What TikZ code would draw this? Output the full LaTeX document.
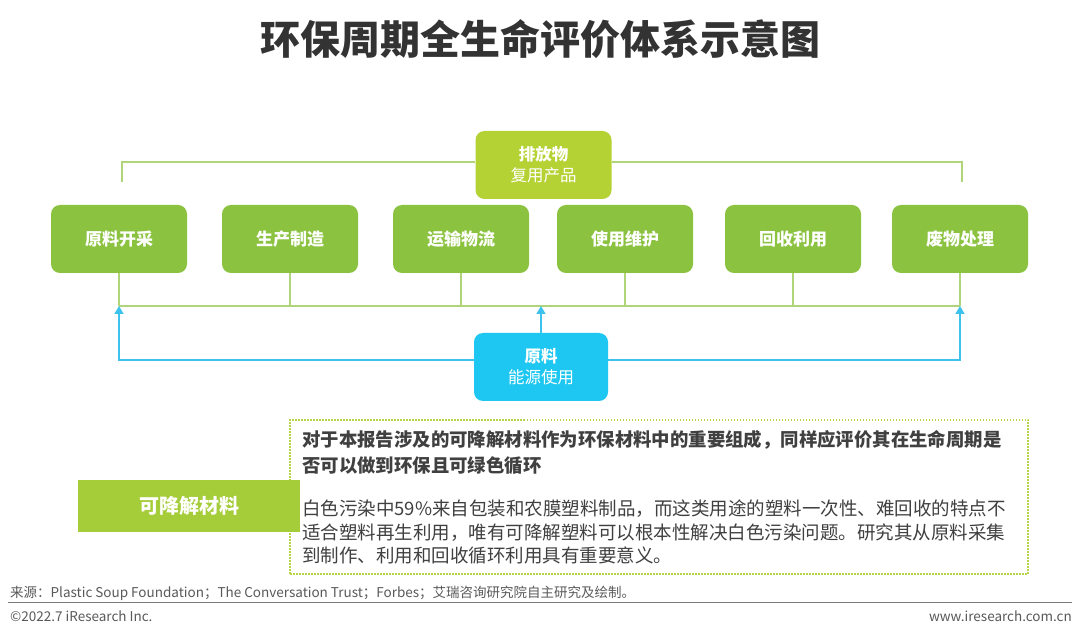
\documentclass[tikz,border=0pt]{standalone}
\usepackage{fontspec}
\setmainfont{Noto Sans CJK SC}
\usetikzlibrary{arrows.meta}
\definecolor{boxgreen}{HTML}{8BC340}
\definecolor{topgreen}{HTML}{B4D234}
\definecolor{rawblue}{HTML}{1EC7F1}
\definecolor{linegreen}{HTML}{AFD47A}
\definecolor{lineblue}{HTML}{3CC2EC}
\definecolor{sidegreen}{HTML}{A5CD39}
\definecolor{dotgreen}{HTML}{B8D44A}
\definecolor{titlegray}{HTML}{333333}
\definecolor{bodygray}{HTML}{404040}
\definecolor{footgray}{HTML}{595959}
\begin{document}
\begin{tikzpicture}[x=1pt,y=-1pt,
  stagebox/.style={fill=boxgreen, rounded corners=9pt, minimum width=136pt, minimum height=68pt, inner sep=0pt, text=white, font=\fontsize{17}{20}\selectfont\bfseries},
  twobox/.style={rounded corners=9pt, minimum width=136pt, minimum height=68pt, inner sep=0pt, text=white, align=center, font=\fontsize{16.5}{21}\selectfont},
  gline/.style={draw=linegreen, line width=1.5pt},
  barrow/.style={draw=lineblue, line width=1.5pt, -{Triangle[width=9pt,length=8pt]}},
  bodyline/.style={anchor=base west, inner sep=0pt, text=bodygray, font=\fontsize{18.5}{24}\selectfont},
  footline/.style={inner sep=0pt, text=footgray, font=\fontsize{13.5}{16}\selectfont}
]
\useasboundingbox (0,0) rectangle (1080,636);
\fill[white] (0,0) rectangle (1080,636);

% title
\node[inner sep=0pt, text=titlegray, font=\fontsize{40}{44}\selectfont\bfseries] (title) at (540,39) {环保周期全生命评价体系示意图};

% top box
\node[twobox, fill=topgreen] (emit) at (543.5,165) {\textbf{排放物}\\复用产品};

% stages
\node[stagebox] (b1) at (119,239) {原料开采};
\node[stagebox] (b2) at (290,239) {生产制造};
\node[stagebox] (b3) at (461,239) {运输物流};
\node[stagebox] (b4) at (625,239) {使用维护};
\node[stagebox] (b5) at (793,239) {回收利用};
\node[stagebox] (b6) at (960,239) {废物处理};

% raw box
\node[twobox, fill=rawblue, minimum width=134pt] (raw) at (541,367) {\textbf{原料}\\能源使用};

% top green connectors
\coordinate (tl) at (122,182);
\coordinate (tr) at (962,182);
\draw[gline] ([yshift=3pt]emit.west) -| (tl);
\draw[gline] ([yshift=3pt]emit.east) -| (tr);

% bus
\coordinate (bus) at (0,306);
\draw[gline] (b1.south |- bus) -- (b6.south |- bus);
\foreach \b in {b1,b2,b3,b4,b5,b6}
  \draw[gline] (\b.south) -- (\b.south |- bus);

% blue arrows
\draw[barrow] (raw.north) -- (raw.north |- bus);
\draw[barrow] ([yshift=7pt]raw.west) -| (b1.south |- bus);
\draw[barrow] ([yshift=7pt]raw.east) -| (b6.south |- bus);

% description box
\node[draw=dotgreen, line width=1.3pt, dash pattern=on 1.5pt off 1.5pt, minimum width=738pt, minimum height=154pt, inner sep=0pt] (desc) at (659,497) {};
\node[fill=sidegreen, minimum width=222pt, minimum height=52pt, inner sep=0pt, text=white, font=\fontsize{20}{24}\selectfont\bfseries] (mat) at (189,506) {可降解材料};

\node[bodyline, font=\fontsize{18.4}{24}\selectfont\bfseries] (q1) at (302,447) {对于本报告涉及的可降解材料作为环保材料中的重要组成，同样应评价其在生命周期是};
\node[bodyline, font=\fontsize{18.4}{24}\selectfont\bfseries] (q2) at (302,472) {否可以做到环保且可绿色循环};
\node[bodyline] (p1) at (302,515) {白色污染中59\%来自包装和农膜塑料制品，而这类用途的塑料一次性、难回收的特点不};
\node[bodyline] (p2) at (302,539) {适合塑料再生利用，唯有可降解塑料可以根本性解决白色污染问题。研究其从原料采集};
\node[bodyline] (p3) at (302,562) {到制作、利用和回收循环利用具有重要意义。};

% footer
\node[footline, anchor=base west] (src) at (10,597) {来源：Plastic Soup Foundation；The Conversation Trust；Forbes；艾瑞咨询研究院自主研究及绘制。};
\draw[draw=footgray!80, line width=1pt] (8,602) -- (1072,602);
\node[footline, anchor=base west] (copy) at (10,621) {©2022.7 iResearch Inc.};
\node[footline, anchor=base east] (web) at (1072,621) {www.iresearch.com.cn};
\end{tikzpicture}
\end{document}
